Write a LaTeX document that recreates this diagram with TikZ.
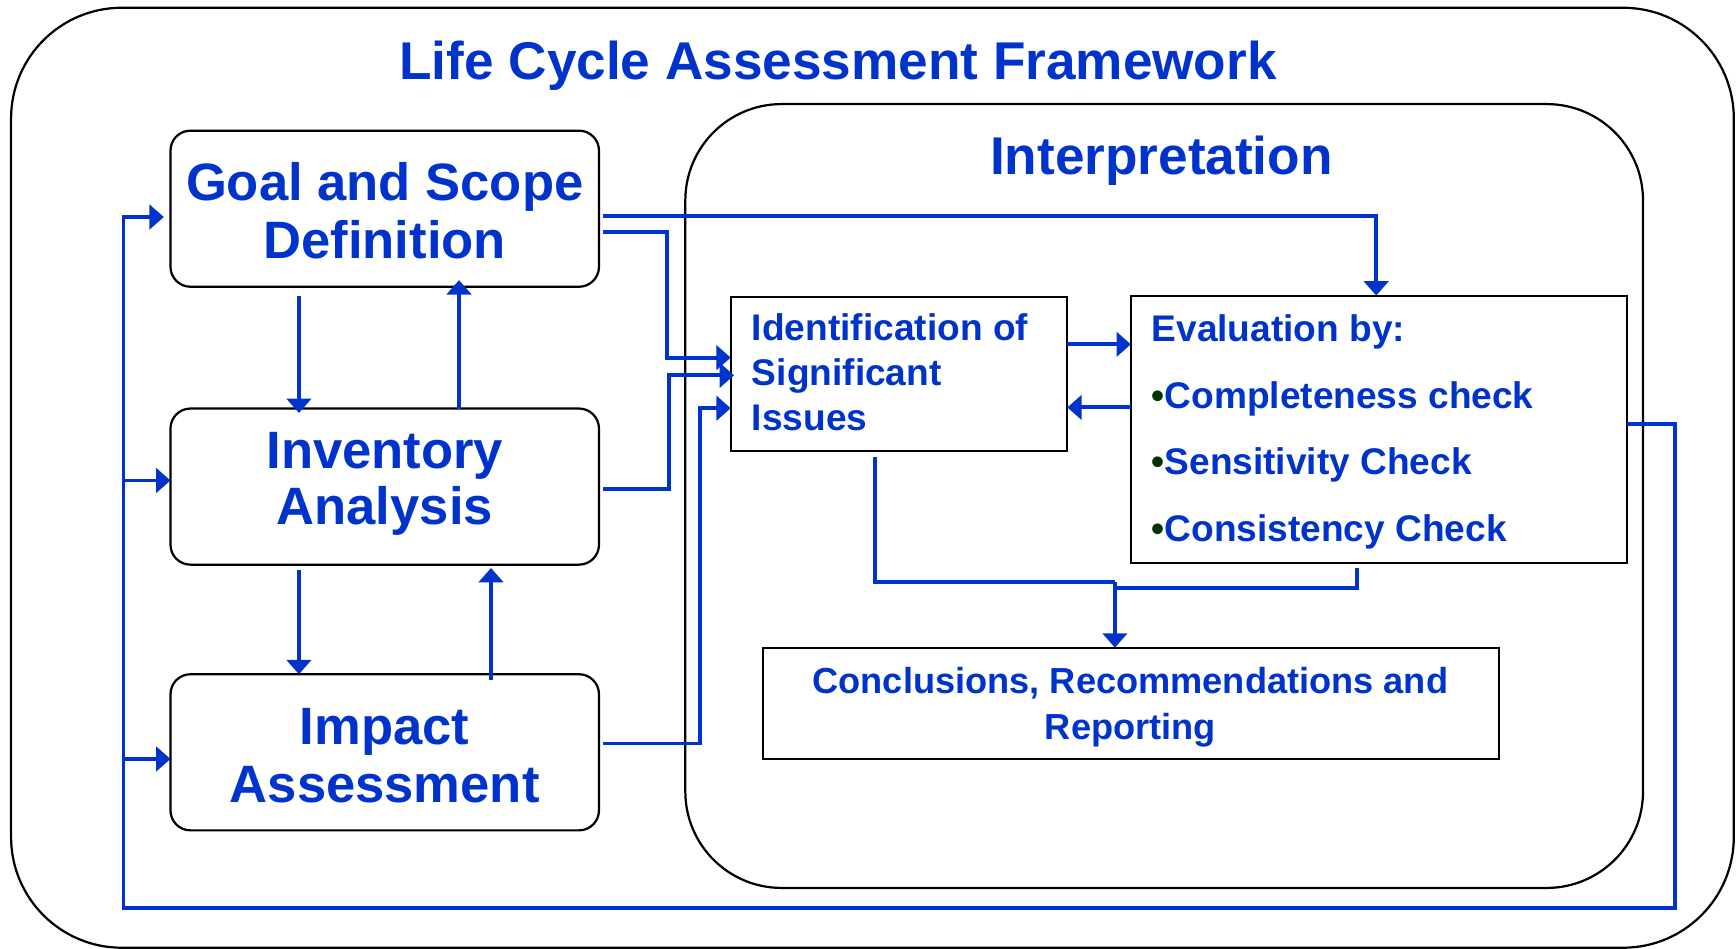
\documentclass[tikz,border=0pt]{standalone}
\usepackage{fontspec}
\setmainfont{Liberation Sans}
\usetikzlibrary{arrows.meta,calc}
\definecolor{lcablue}{RGB}{0,51,204}
\definecolor{bulgreen}{RGB}{0,51,0}
\begin{document}
\begin{tikzpicture}[x=1pt,y=-1pt,
  bigbox/.style={draw=black, line width=2pt, rounded corners=18pt, minimum width=387pt, minimum height=141pt, inner sep=0pt, outer sep=0pt},
  sqbox/.style={draw=black, line width=1.8pt, inner sep=0pt, outer sep=0pt},
  conn/.style={draw=lcablue, line width=3.5pt},
  arr/.style={conn, -{Triangle[length=13pt,width=22pt]}},
  bigtxt/.style={text=lcablue, font=\fontsize{47.5}{53}\selectfont\bfseries, inner sep=0pt, anchor=base},
  midtxt/.style={text=lcablue, font=\fontsize{33.5}{40}\selectfont\bfseries, inner sep=0pt, anchor=base west},
  contxt/.style={text=lcablue, font=\fontsize{32.7}{37}\selectfont\bfseries, inner sep=0pt, anchor=base},
  bul/.style={text=bulgreen}
]
\useasboundingbox (0,0) rectangle (1568,857);

% outer frame
\draw[line width=2pt, rounded corners=100pt] (10,7) rectangle (1566,856);
\node[text=lcablue, font=\fontsize{48}{56}\selectfont\bfseries, inner sep=0pt, anchor=base] (title) at (757,72) {Life Cycle Assessment Framework};

% interpretation frame
\node[draw=black, line width=2pt, rounded corners=87pt, minimum width=865pt, minimum height=708pt, inner sep=0pt, outer sep=0pt, anchor=north west] (interp) at (619,94) {};
\node[text=lcablue, font=\fontsize{48}{56}\selectfont\bfseries, inner sep=0pt, anchor=base] (interpt) at (1049,158) {Interpretation};

% left boxes
\node[bigbox] (goal) at (347.5,188.5) {};
\node[bigtxt] (goalt1) at (347.5,181.5) {Goal and Scope};
\node[bigtxt] (goalt2) at (347.5,233.5) {Definition};

\node[bigbox] (inv) at (347.5,439.5) {};
\node[bigtxt] (invt1) at (347.5,423.5) {Inventory};
\node[bigtxt] (invt2) at (347.5,474) {Analysis};

\node[bigbox] (imp) at (347.5,679.5) {};
\node[bigtxt] (impt1) at (347.5,672) {Impact};
\node[bigtxt] (impt2) at (347.5,724.5) {Assessment};

% interpretation boxes
\node[sqbox, minimum width=304pt, minimum height=139.5pt] (ident) at (812,337.7) {};
\node[midtxt] (identt1) at (679,307.7) {Identification of};
\node[midtxt] (identt2) at (679,348.6) {Significant};
\node[midtxt] (identt3) at (679,388.4) {Issues};

\node[sqbox, minimum width=448.5pt, minimum height=241.7pt] (eval) at (1245.7,387.8) {};
\node[midtxt] (evalt1) at (1040,308.6) {Evaluation by:};
\node[midtxt] (evalt2) at (1040,368.7) {\textcolor{bulgreen}{•}Completeness check};
\node[midtxt] (evalt3) at (1040,429) {\textcolor{bulgreen}{•}Sensitivity Check};
\node[midtxt] (evalt4) at (1040,489) {\textcolor{bulgreen}{•}Consistency Check};

\node[sqbox, minimum width=665pt, minimum height=100.6pt] (concl) at (1021.5,635.3) {};
\node[contxt] (conclt1) at (1021,626) {Conclusions, Recommendations and};
\node[contxt] (conclt2) at (1021,667.5) {Reporting};

% helper coordinates
\coordinate (xA) at (270,0);
\coordinate (xB) at (414.6,0);
\coordinate (xC) at (443.5,0);
\coordinate (xL) at (111.5,0);
\coordinate (xR) at (1513,0);
\coordinate (x1) at (602.5,0);
\coordinate (x2) at (604.5,0);
\coordinate (x3) at (632,0);
\coordinate (xE) at (1243,0);
\coordinate (xI) at (790.5,0);
\coordinate (xJ) at (1007,0);
\coordinate (xK) at (1226,0);
\coordinate (yG) at (0,196);
\coordinate (yInv) at (0,434);
\coordinate (yImp) at (0,685.5);
\coordinate (yBot) at (0,820);
\coordinate (yFB) at (0,383);
\coordinate (yG1) at (0,195);
\coordinate (yG2) at (0,209.5);
\coordinate (yI1) at (0,323);
\coordinate (yI2) at (0,339);
\coordinate (yI3) at (0,368.7);
\coordinate (yV) at (0,441.4);
\coordinate (yM) at (0,671.5);
\coordinate (yIE) at (0,311);
\coordinate (yEI) at (0,368);
\coordinate (yM1) at (0,525.5);
\coordinate (yM2) at (0,531);

% vertical arrows between left boxes
\draw[arr, shorten <=8pt, shorten >=-4pt] (goal.south -| xA) -- (inv.north -| xA);
\draw[arr, shorten >=-6pt] (inv.north -| xB) -- (goal.south -| xB);
\draw[arr, shorten <=5pt] (inv.south -| xA) -- (imp.north -| xA);
\draw[arr, shorten <=-5pt, shorten >=3pt] (imp.north -| xC) -- (inv.south -| xC);

% feedback loop
\draw[arr, shorten >=6pt] (eval.east |- yFB) -- (xR |- yFB) -- (xR |- yBot) -- (xL |- yBot) -- (xL |- yG) -- (goal.west |- yG);
\draw[arr] (xL |- yInv) -- (inv.west |- yInv);
\draw[arr] (xL |- yImp) -- (imp.west |- yImp);

% from left boxes into interpretation
\draw[arr, shorten <=4pt] (goal.east |- yG1) -- (xE |- yG1) -- (eval.north -| xE);
\draw[arr, shorten <=4pt] (goal.east |- yG2) -- (x1 |- yG2) -- (x1 |- yI1) -- (ident.west |- yI1);
\draw[arr, shorten <=4pt, shorten >=-3pt] (inv.east |- yV) -- (x2 |- yV) -- (x2 |- yI2) -- (ident.west |- yI2);
\draw[arr, shorten <=4pt] (imp.east |- yM) -- (x3 |- yM) -- (x3 |- yI3) -- (ident.west |- yI3);

% between ident and eval
\draw[arr] (ident.east |- yIE) -- (eval.west |- yIE);
\draw[arr] (eval.west |- yEI) -- (ident.east |- yEI);

% to conclusions
\draw[conn, shorten <=5pt] (ident.south -| xI) -- (xI |- yM1) -- (xJ |- yM1);
\draw[conn, shorten <=4pt] (eval.south -| xK) -- (xK |- yM2) -- (xJ |- yM2);
\draw[arr] (xJ |- yM1) -- (concl.north -| xJ);
\end{tikzpicture}
\end{document}
